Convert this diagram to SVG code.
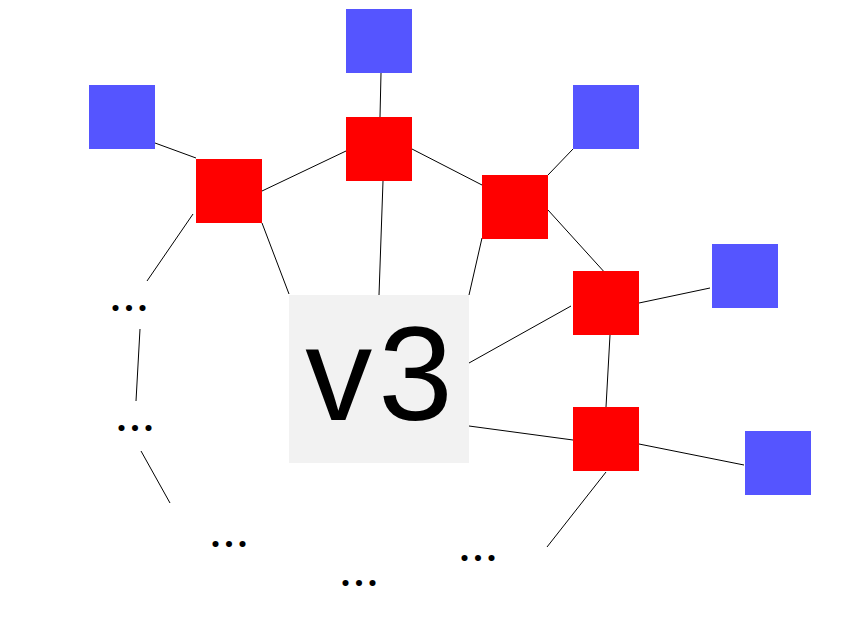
<svg xmlns="http://www.w3.org/2000/svg" width="845" height="635" viewBox="0 0 845 635">
<style>
.blue{fill:#5555ff}
.red{fill:#ff0000}
.edge{stroke:#000;stroke-width:1;fill:none}
.dots{font-family:Lato,"Liberation Sans",sans-serif;font-weight:bold;font-size:40px;fill:#000;text-anchor:middle;letter-spacing:4px}
.lbl{font-family:"Liberation Sans",Arial,sans-serif;font-size:134px;fill:#000;text-anchor:middle}
</style>
<rect width="845" height="635" fill="#fff"/>
<g id="connectors">
<line class="edge" x1="155" y1="143" x2="196" y2="158"/>
<line class="edge" x1="381" y1="73" x2="380" y2="117"/>
<line class="edge" x1="262" y1="191" x2="346" y2="151"/>
<line class="edge" x1="412" y1="149" x2="482" y2="185"/>
<line class="edge" x1="548" y1="175" x2="573" y2="149"/>
<line class="edge" x1="548" y1="210" x2="607" y2="275"/>
<line class="edge" x1="639" y1="303" x2="710" y2="288"/>
<line class="edge" x1="610" y1="335" x2="606" y2="407"/>
<line class="edge" x1="639" y1="444" x2="744" y2="465"/>
<line class="edge" x1="262" y1="223" x2="289" y2="294"/>
<line class="edge" x1="383" y1="181" x2="379" y2="295"/>
<line class="edge" x1="482" y1="238" x2="469" y2="295"/>
<line class="edge" x1="571" y1="306" x2="469" y2="363"/>
<line class="edge" x1="573" y1="440" x2="469" y2="426"/>
<line class="edge" x1="193" y1="214" x2="147" y2="281"/>
<line class="edge" x1="140" y1="329" x2="136" y2="401"/>
<line class="edge" x1="141" y1="451" x2="170" y2="503"/>
<line class="edge" x1="606" y1="472" x2="547" y2="547"/>
</g>
<g id="b1"><rect class="blue" x="89" y="85" width="66" height="64"/></g>
<g id="b2"><rect class="blue" x="346" y="9" width="66" height="64"/></g>
<g id="b3"><rect class="blue" x="573" y="85" width="66" height="64"/></g>
<g id="b4"><rect class="blue" x="712" y="244" width="66" height="64"/></g>
<g id="b5"><rect class="blue" x="745" y="431" width="66" height="64"/></g>
<g id="r1"><rect class="red" x="196" y="159" width="66" height="64"/></g>
<g id="r2"><rect class="red" x="346" y="117" width="66" height="64"/></g>
<g id="r3"><rect class="red" x="482" y="175" width="66" height="64"/></g>
<g id="r4"><rect class="red" x="573" y="271" width="66" height="64"/></g>
<g id="r5"><rect class="red" x="573" y="407" width="66" height="64"/></g>
<g id="v3">
<rect x="289" y="295" width="180" height="168" fill="#f2f2f2"/>
<text class="lbl" x="382" y="420" letter-spacing="6">v3</text>
</g>
<g id="e1"><text class="dots" x="131" y="311">...</text></g>
<g id="e2"><text class="dots" x="137" y="431">...</text></g>
<g id="e3"><text class="dots" x="231" y="547">...</text></g>
<g id="e4"><text class="dots" x="361" y="586">...</text></g>
<g id="e5"><text class="dots" x="480" y="561">...</text></g>
</svg>
